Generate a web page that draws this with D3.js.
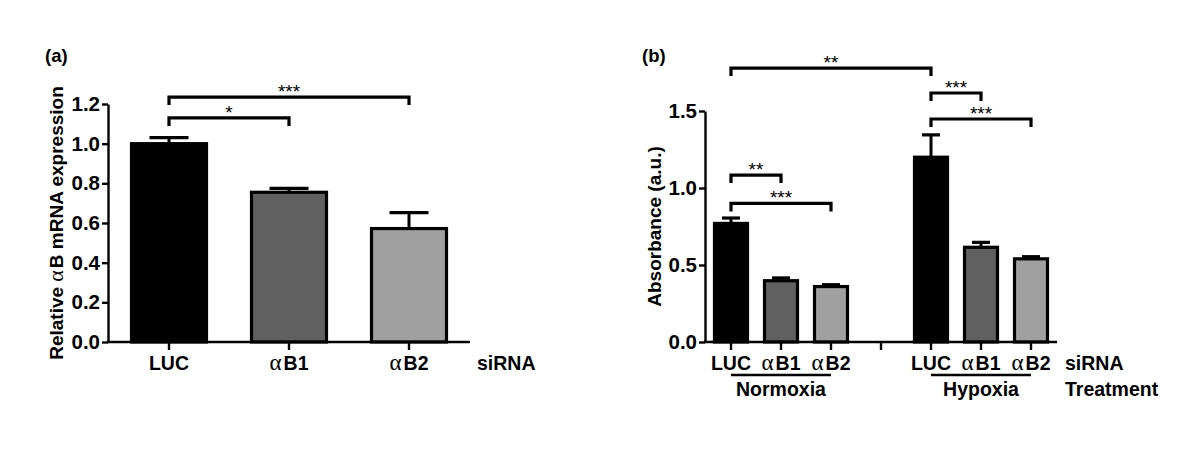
<!DOCTYPE html>
<html><head><meta charset="utf-8">
<script src="https://cdn.jsdelivr.net/npm/d3@7"></script>
<style>
html,body{margin:0;padding:0;background:#fff;}
svg{display:block;}
text{font-family:"Liberation Sans",Arial,sans-serif;}
</style></head>
<body>
<svg id="chart" width="1200" height="467"></svg>
<script>
// ---------- Panel (a) data ----------
const catsA = ["LUC", "αB1", "αB2"];
const valuesA = [1.0, 0.755, 0.572];
const errA = [0.03, 0.02, 0.08];
const colorsA = ["#000000", "#606060", "#a0a0a0"];
const yTicksA = [0, 0.2, 0.4, 0.6, 0.8, 1.0, 1.2];
const bracketsA = [
  {from: "LUC", to: "αB1", level: 1.13, label: "*"},
  {from: "LUC", to: "αB2", level: 1.235, label: "***"}
];

// ---------- Panel (b) data ----------
const slotsB = ["N-LUC", "N-αB1", "N-αB2", "gap", "H-LUC", "H-αB1", "H-αB2"];
const labelsB = ["LUC", "αB1", "αB2", "", "LUC", "αB1", "αB2"];
const barsB = ["N-LUC", "N-αB1", "N-αB2", "H-LUC", "H-αB1", "H-αB2"];
const valuesB = [0.77, 0.398, 0.36, 1.2, 0.615, 0.54];
const errB = [0.035, 0.018, 0.012, 0.145, 0.032, 0.014];
const colorsB = ["#000000", "#606060", "#a0a0a0", "#000000", "#606060", "#a0a0a0"];
const yTicksB = [0, 0.5, 1.0, 1.5];
const groupsB = [
  {name: "Normoxia", from: "N-LUC", to: "N-αB2"},
  {name: "Hypoxia", from: "H-LUC", to: "H-αB2"}
];
const bracketsB = [
  {from: "N-LUC", to: "N-αB1", level: 1.084, label: "**"},
  {from: "N-LUC", to: "N-αB2", level: 0.90, label: "***"},
  {from: "H-LUC", to: "H-αB1", level: 1.617, label: "***"},
  {from: "H-LUC", to: "H-αB2", level: 1.448, label: "***"},
  {from: "N-LUC", to: "H-LUC", level: 1.779, label: "**"}
];

const FS = 19.5;
const svg = d3.select("#chart");
svg.append("rect").attr("width", 1200).attr("height", 467).attr("fill", "#fff");

function catLabel(sel, txt) {
  if (txt.startsWith("α")) {
    sel.append("tspan").attr("font-family", "'Liberation Serif',serif").attr("font-weight", "normal")
      .attr("font-size", 23).text("α");
    sel.append("tspan").attr("dx", 2).text(txt.slice(1));
  } else sel.text(txt);
}

function drawPanel(opt) {
  const g = svg.append("g");
  const x = d3.scaleBand().domain(opt.slots).range(opt.xr).paddingInner(opt.pad).paddingOuter(opt.pad / 2);
  const y = d3.scaleLinear().domain(opt.ydom).range(opt.yr);
  const cx = d => x(d) + x.bandwidth() / 2;

  // bars
  g.selectAll("rect.bar").data(opt.bars).join("rect")
    .attr("x", (d) => x(d) + 1.5)
    .attr("width", x.bandwidth() - 3)
    .attr("y", (d, i) => y(opt.values[i]))
    .attr("height", (d, i) => y(0) - y(opt.values[i]))
    .attr("fill", (d, i) => opt.colors[i])
    .attr("stroke", "#000").attr("stroke-width", 3.2);

  // error bars (upper only)
  const cw = x.bandwidth() / 2;
  opt.bars.forEach((d, i) => {
    const top = y(opt.values[i] + opt.err[i]);
    g.append("line").attr("x1", cx(d)).attr("x2", cx(d)).attr("y1", y(opt.values[i])).attr("y2", top)
      .attr("stroke", "#000").attr("stroke-width", 3);
    g.append("line").attr("x1", cx(d) - cw / 2).attr("x2", cx(d) + cw / 2).attr("y1", top).attr("y2", top)
      .attr("stroke", "#000").attr("stroke-width", 3.2);
  });

  // y axis
  const ya = g.append("g").attr("transform", `translate(${opt.xr[0] - 1},0)`)
    .call(d3.axisLeft(y).tickValues(opt.yticks).tickFormat(d3.format(".1f")).tickSize(6).tickSizeOuter(0).tickPadding(2));
  ya.select(".domain").attr("stroke-width", 2.4);
  ya.selectAll(".tick line").attr("stroke-width", 2.4);
  ya.selectAll(".tick text").attr("font-size", 20.5).attr("font-weight", "bold").attr("font-family", "'Liberation Sans',Arial,sans-serif").attr("fill", "#000");

  // x axis
  const xa = g.append("g").attr("transform", `translate(0,${y(0)})`)
    .call(d3.axisBottom(x).tickFormat("").tickSize(8).tickSizeOuter(0));
  xa.select(".domain").attr("stroke-width", 2.4).attr("d", `M${opt.xr[0] - 2},0H${opt.xr[1] + 1}`);
  xa.selectAll(".tick line").attr("stroke-width", 2.4);

  // category labels
  opt.slots.forEach((d, i) => {
    const t = opt.labels[i];
    if (!t) return;
    const tx = g.append("text").attr("x", cx(d)).attr("y", opt.labY).attr("text-anchor", "middle")
      .attr("font-size", FS).attr("font-weight", "bold");
    catLabel(tx, t);
  });
  g.append("text").attr("x", opt.sirnaX).attr("y", opt.labY).attr("font-size", FS).attr("font-weight", "bold").text("siRNA");

  // y title
  g.append("text").attr("transform", `translate(${opt.titleX},${(opt.yr[0] + opt.yr[1]) / 2}) rotate(-90)`)
    .attr("text-anchor", "middle").attr("font-size", 19).attr("font-weight", "bold")
    .call(s => {
      if (opt.ytitle.includes("α")) {
        const parts = opt.ytitle.split("α");
        s.append("tspan").text(parts[0]);
        s.append("tspan").attr("font-family", "'Liberation Serif',serif").attr("font-weight", "normal").attr("font-size", 22).text("α");
        s.append("tspan").attr("dx", 2).text(parts[1]);
      } else s.text(opt.ytitle);
    });

  // panel letter
  g.append("text").attr("x", opt.letterX).attr("y", 62).attr("font-size", 18.5).attr("font-weight", "bold").text(opt.letter);

  // brackets
  opt.brackets.forEach(b => {
    const x1 = cx(b.from), x2 = cx(b.to), yy = y(b.level);
    g.append("path").attr("d", `M${x1},${yy + 8}V${yy}H${x2}V${yy + 8}`)
      .attr("fill", "none").attr("stroke", "#000").attr("stroke-width", 3.2);
    g.append("text").attr("x", (x1 + x2) / 2).attr("y", yy + 1).attr("text-anchor", "middle")
      .attr("font-size", 19).attr("font-weight", "normal").text(b.label);
  });

  return {g, x, y, cx};
}

drawPanel({
  slots: catsA, labels: catsA, bars: catsA, values: valuesA, err: errA, colors: colorsA,
  xr: [109, 469], pad: 0.35, ydom: [0, 1.2], yr: [342, 104], yticks: yTicksA,
  labY: 370, sirnaX: 477, ytitle: "Relative αB mRNA expression", titleX: 63,
  letter: "(a)", letterX: 45, brackets: bracketsA
});

const pB = drawPanel({
  slots: slotsB, labels: labelsB, bars: barsB, values: valuesB, err: errB, colors: colorsB,
  xr: [706, 1056], pad: 0.28, ydom: [0, 1.5], yr: [342, 111], yticks: yTicksB,
  labY: 370, sirnaX: 1065, ytitle: "Absorbance (a.u.)", titleX: 661,
  letter: "(b)", letterX: 642, brackets: bracketsB
});

// group underlines and names
groupsB.forEach(gr => {
  const x1 = pB.cx(gr.from), x2 = pB.cx(gr.to);
  pB.g.append("line").attr("x1", x1).attr("x2", x2).attr("y1", 375).attr("y2", 375)
    .attr("stroke", "#000").attr("stroke-width", 2.6);
  pB.g.append("text").attr("x", (x1 + x2) / 2).attr("y", 396).attr("text-anchor", "middle")
    .attr("font-size", FS).attr("font-weight", "bold").text(gr.name);
});
pB.g.append("text").attr("x", 1065).attr("y", 396).attr("font-size", FS).attr("font-weight", "bold").text("Treatment");
</script>
</body></html>
